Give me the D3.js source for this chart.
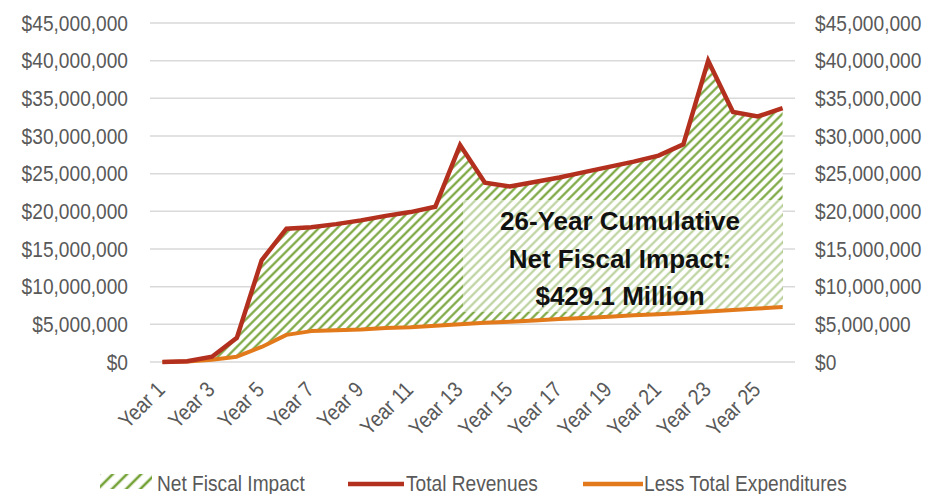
<!DOCTYPE html>
<html>
<head>
<meta charset="utf-8">
<script src="https://cdn.jsdelivr.net/npm/d3@7"></script>
<style>
  html, body { margin: 0; padding: 0; background: #ffffff; }
  svg { display: block; }
  text { font-family: "Liberation Sans", Arial, sans-serif; }
</style>
</head>
<body>
<svg id="chart" width="942" height="494"></svg>
<script>
// Categories
const years = ["Year 1","Year 2","Year 3","Year 4","Year 5","Year 6","Year 7","Year 8","Year 9",
  "Year 10","Year 11","Year 12","Year 13","Year 14","Year 15","Year 16","Year 17","Year 18",
  "Year 19","Year 20","Year 21","Year 22","Year 23","Year 24","Year 25","Year 26"];

// Annual totals, $ millions
const totalRevenues = [0, 0.1, 0.7, 3.2, 13.5, 17.7, 17.9, 18.3, 18.8, 19.4, 19.9, 20.6, 28.8,
  23.8, 23.3, 23.9, 24.5, 25.2, 25.9, 26.6, 27.4, 28.9, 40.0, 33.2, 32.6, 33.7];
const totalExpenditures = [0, 0.05, 0.3, 0.7, 2.0, 3.6, 4.1, 4.2, 4.3, 4.5, 4.6, 4.8, 5.0,
  5.2, 5.35, 5.5, 5.7, 5.85, 6.0, 6.2, 6.35, 6.5, 6.7, 6.9, 7.1, 7.3];

// Axis ticks, $ millions
const yTicks = [0, 5, 10, 15, 20, 25, 30, 35, 40, 45];
const xTickLabels = ["Year 1","Year 3","Year 5","Year 7","Year 9","Year 11","Year 13",
  "Year 15","Year 17","Year 19","Year 21","Year 23","Year 25"];

const seriesNames = ["Net Fiscal Impact", "Total Revenues", "Less Total Expenditures"];
const calloutLines = ["26-Year Cumulative", "Net Fiscal Impact:", "$429.1 Million"];

const rows = years.map((y, i) => ({ year: y, rev: totalRevenues[i], exp: totalExpenditures[i] }));

const svg = d3.select("#chart");
const plot = { left: 150, right: 795, top: 23, bottom: 362 };
const squeeze = 0.87;           // condensed look of the axis lettering
const labelColor = "#595959";
const revColor = "#b3301f";
const expColor = "#e27a1c";
const hatchColor = "#73a135";

const x = d3.scaleBand().domain(years).range([plot.left, plot.right]);
const xc = d => x(d) + x.bandwidth() / 2;
const y = d3.scaleLinear().domain([0, 45]).range([plot.bottom, plot.top]);
const money = v => "$" + d3.format(",")(Math.round(v * 1e6));

// Diagonal hatch patterns
const defs = svg.append("defs");
function hatch(id, size, width) {
  const p = defs.append("pattern")
    .attr("id", id).attr("patternUnits", "userSpaceOnUse")
    .attr("width", size).attr("height", size)
    .attr("patternTransform", "rotate(45)");
  p.append("rect").attr("width", size).attr("height", size).attr("fill", "#ffffff");
  p.append("line").attr("x1", size / 2).attr("y1", 0).attr("x2", size / 2).attr("y2", size)
    .attr("stroke", hatchColor).attr("stroke-width", width);
}
hatch("hatch", 6.5, 2.1);
hatch("hatchLegend", 10, 2.6);

// Gridlines
svg.append("g").selectAll("line").data(yTicks).join("line")
  .attr("x1", plot.left).attr("x2", plot.right)
  .attr("y1", d => y(d)).attr("y2", d => y(d))
  .attr("stroke", "#d9d9d9").attr("stroke-width", 1.5);

// Net fiscal impact band: between expenditures and revenues
svg.append("path").datum(rows)
  .attr("fill", "url(#hatch)")
  .attr("d", d3.area().x(d => xc(d.year)).y0(d => y(d.exp)).y1(d => y(d.rev)));

// Callout backdrop
svg.append("rect")
  .attr("x", 463).attr("y", 200).attr("width", 319).attr("height", 112)
  .attr("fill", "#ffffff").attr("opacity", 0.5);

// Lines
svg.append("path").datum(rows)
  .attr("fill", "none").attr("stroke", expColor).attr("stroke-width", 4)
  .attr("stroke-linejoin", "round")
  .attr("d", d3.line().x(d => xc(d.year)).y(d => y(d.exp)));
svg.append("path").datum(rows)
  .attr("fill", "none").attr("stroke", revColor).attr("stroke-width", 4.5)
  .attr("stroke-linejoin", "miter")
  .attr("d", d3.line().x(d => xc(d.year)).y(d => y(d.rev)));

// Axes
function styleAxis(g) {
  g.select(".domain").remove();
  g.selectAll(".tick line").remove();
  g.selectAll("text").attr("fill", labelColor).style("font-size", "22px");
}
const leftAxis = svg.append("g").attr("transform", `translate(${plot.left},0)`)
  .call(d3.axisLeft(y).tickValues(yTicks).tickFormat(money).tickSize(0).tickPadding(0))
  .call(styleAxis);
leftAxis.selectAll("text")
  .attr("x", -22 / squeeze).attr("dy", "0.32em")
  .attr("transform", `scale(${squeeze},1)`);

const rightAxis = svg.append("g").attr("transform", `translate(${plot.right},0)`)
  .call(d3.axisRight(y).tickValues(yTicks).tickFormat(money).tickSize(0).tickPadding(0))
  .call(styleAxis);
rightAxis.selectAll("text")
  .attr("x", 20 / squeeze).attr("dy", "0.32em")
  .attr("transform", `scale(${squeeze},1)`);

const bottomAxis = svg.append("g").attr("transform", `translate(0,${plot.bottom})`)
  .call(d3.axisBottom(x).tickValues(xTickLabels).tickSize(0).tickPadding(0))
  .call(styleAxis);
bottomAxis.selectAll("text")
  .attr("x", 0).attr("y", 0).attr("dy", 0)
  .attr("text-anchor", "end")
  .attr("transform", `translate(4,29) rotate(-45) scale(${squeeze},1)`);

// Callout text
svg.append("g").selectAll("text").data(calloutLines).join("text")
  .attr("x", 620).attr("y", (d, i) => [230, 267.5, 305][i])
  .attr("text-anchor", "middle")
  .attr("fill", "#111111")
  .style("font-size", "26px").style("font-weight", "bold")
  .text(d => d);

// Legend
const legend = svg.append("g");
legend.append("rect").attr("x", 100).attr("y", 474).attr("width", 52).attr("height", 15)
  .attr("fill", "url(#hatchLegend)");
legend.append("line").attr("x1", 348).attr("x2", 404).attr("y1", 484).attr("y2", 484)
  .attr("stroke", revColor).attr("stroke-width", 4.5);
legend.append("line").attr("x1", 583).attr("x2", 643).attr("y1", 484).attr("y2", 484)
  .attr("stroke", expColor).attr("stroke-width", 4.5);
const legendX = [157, 406, 644];
legend.selectAll("text").data(seriesNames).join("text")
  .attr("x", (d, i) => legendX[i] / squeeze).attr("y", 491)
  .attr("transform", `scale(${squeeze},1)`)
  .attr("fill", labelColor).style("font-size", "22px")
  .text(d => d);
</script>
</body>
</html>
